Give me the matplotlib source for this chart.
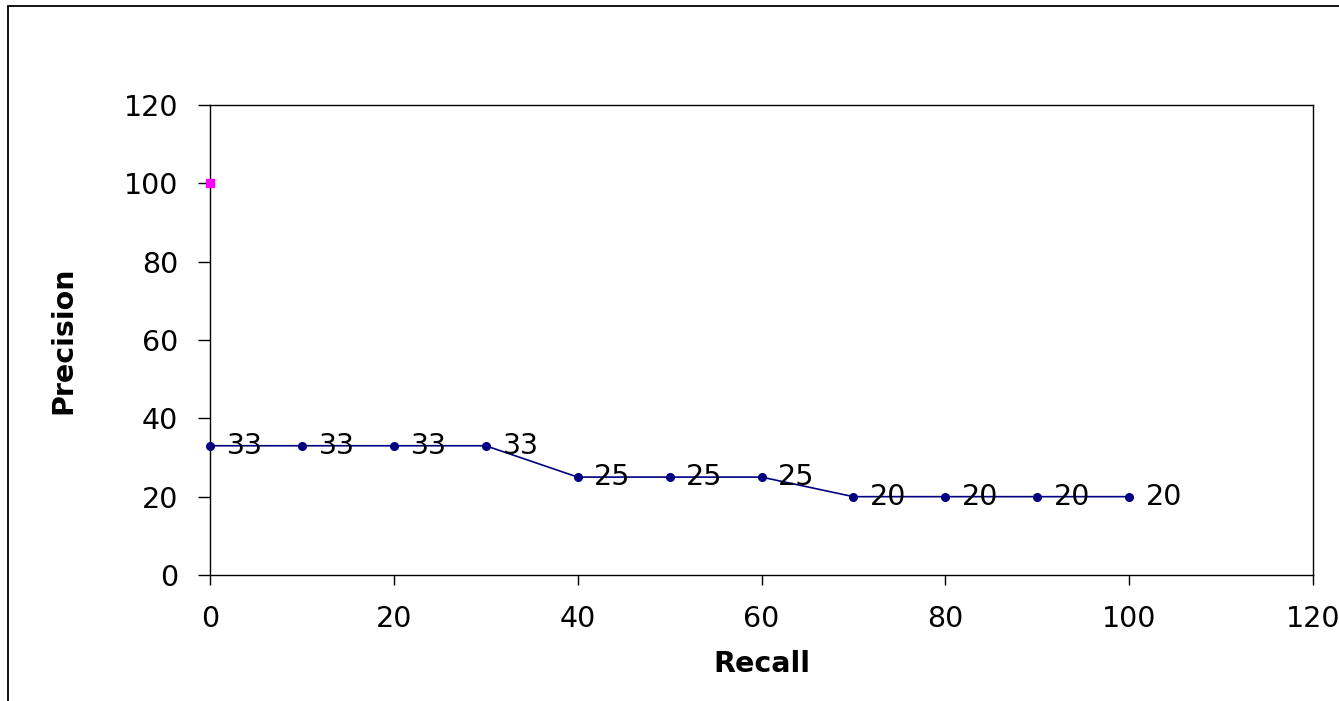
import matplotlib
matplotlib.use("Agg")
import matplotlib.pyplot as plt
from matplotlib.patches import Rectangle

recall = [0, 10, 20, 30, 40, 50, 60, 70, 80, 90, 100]
precision = [33, 33, 33, 33, 25, 25, 25, 20, 20, 20, 20]
point_labels = ["33", "33", "33", "33", "25", "25", "25", "20", "20", "20", "20"]
extra_x = [0]
extra_y = [100]
x_ticks = [0, 20, 40, 60, 80, 100, 120]
y_ticks = [0, 20, 40, 60, 80, 100, 120]

plt.rcParams['font.family'] = ['DejaVu Sans']
FS = 20.5
W, H = 1339, 701
fig = plt.figure(figsize=(W / 100, H / 100), dpi=100)
fig.patch.set_facecolor('white')

# outer chart border
fig.add_artist(Rectangle((8 / W, -0.5), 2.0, 1.5 - 6 / H, transform=fig.transFigure,
                         fill=False, edgecolor='black', linewidth=1.3))

ax = fig.add_axes([210 / W, 1 - 575 / H, (1313 - 210) / W, (575 - 105) / H])
ax.set_xlim(0, 120)
ax.set_ylim(0, 120)
ax.set_xticks(x_ticks)
ax.set_yticks(y_ticks)
ax.tick_params(axis='both', direction='out', length=7.5, width=1.0, labelsize=FS, pad=14, colors='black')
ax.tick_params(axis='y', length=9, pad=14)
for s in ax.spines.values():
    s.set_linewidth(1.0)
    s.set_color('black')

ax.plot(recall, precision, color='#000080', linewidth=1.2, marker='o', markersize=5.5,
        markerfacecolor='#000080', markeredgecolor='#000080', clip_on=False, zorder=3)
ax.plot(extra_x, extra_y, linestyle='none', marker='s', markersize=6,
        color='#FF00FF', clip_on=False, zorder=4)

for xv, yv, lab in zip(recall, precision, point_labels):
    ax.annotate(lab, (xv, yv), xytext=(12, 0), textcoords='offset points',
                ha='left', va='center', fontsize=FS, color='black')

ax.set_xlabel('Recall', fontsize=FS, fontweight='bold', labelpad=12)
ax.set_ylabel('Precision', fontsize=FS, fontweight='bold', labelpad=33)

fig.savefig('out.png', dpi=100)
